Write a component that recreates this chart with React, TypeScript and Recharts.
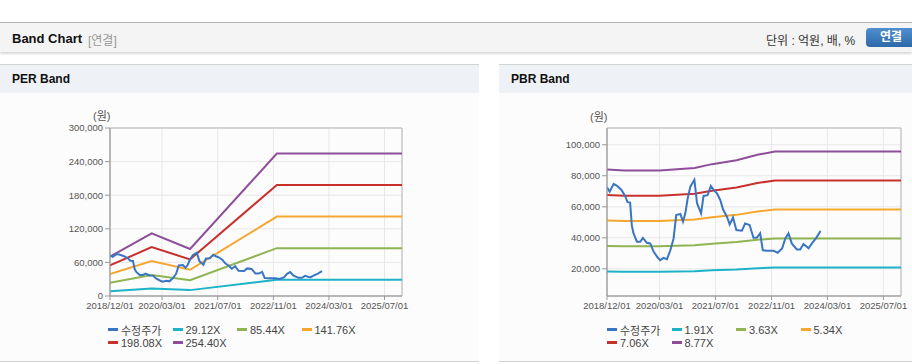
import React from 'react';
import { LineChart, Line, XAxis, YAxis, CartesianGrid, ReferenceArea } from 'recharts';

// adjusted close, shared by both charts
const PRICE_NAME = '수정주가';
const PRICE_DATES = [
  '2018-12-01', '2018-12-24', '2019-01-28', '2019-02-26', '2019-04-04', '2019-05-08',
  '2019-05-28', '2019-06-20', '2019-07-05', '2019-07-19', '2019-08-18', '2019-09-16',
  '2019-10-09', '2019-11-13', '2019-12-12', '2020-01-11', '2020-02-15', '2020-03-08',
  '2020-04-06', '2020-05-05', '2020-06-04', '2020-07-02', '2020-07-25', '2020-08-30',
  '2020-09-22', '2020-10-12', '2020-11-02', '2020-11-25', '2020-12-30', '2021-01-22',
  '2021-02-26', '2021-03-20', '2021-04-24', '2021-05-22', '2021-06-15', '2021-07-14',
  '2021-08-12', '2021-09-05', '2021-10-09', '2021-11-02', '2021-12-01', '2021-12-30',
  '2022-02-17', '2022-03-16', '2022-04-24', '2022-05-28', '2022-06-26', '2022-07-25',
  '2022-08-17', '2022-09-22', '2022-11-19', '2022-12-24', '2023-02-01', '2023-03-01',
  '2023-03-28', '2023-04-26', '2023-06-09', '2023-07-08', '2023-08-06', '2023-09-19',
  '2023-10-18', '2023-11-25', '2024-01-01',
];
const PRICE = [
  72600, 69800, 74800, 73500, 71000, 67000,
  63000, 62700, 48000, 43000, 37500, 37500,
  40000, 36800, 36400, 31000, 27300, 25600,
  27100, 26200, 32000, 39600, 54700, 55400,
  50400, 55800, 65500, 73000, 77400, 62300,
  55800, 67000, 67500, 73500, 71000, 68700,
  64400, 58400, 53600, 48700, 53200, 45000,
  44600, 49300, 48300, 40000, 40000, 42900,
  32000, 31600, 31600, 30400, 33200, 39600,
  42900, 36400, 32500, 32500, 36000, 33200,
  36400, 40000, 44400,
];

// PER bands (원)
const PER_LABELS = ['29.12X', '85.44X', '141.76X', '198.08X', '254.40X'];
const PER_BAND_DATES = ['2018-12-01', '2019-12-01', '2020-11-01', '2022-12-01', '2025-12-01'];
const PER_29 = [8500, 13500, 10500, 29120, 29120];
const PER_85 = [23600, 37600, 28200, 85440, 85440];
const PER_141 = [39100, 62400, 46800, 141760, 141760];
const PER_198 = [54700, 87200, 65400, 198080, 198080];
const PER_254 = [70200, 112000, 84000, 254400, 254400];
const PER_Y_TICKS = [0, 60000, 120000, 180000, 240000, 300000];

// PBR bands (원)
const PBR_LABELS = ['1.91X', '3.63X', '5.34X', '7.06X', '8.77X'];
const PBR_BAND_DATES = [
  '2018-12-01', '2019-05-01', '2020-03-01', '2021-01-01', '2021-06-01',
  '2022-01-01', '2022-07-01', '2022-12-01', '2025-12-01',
];
const PBR_191 = [18300, 18200, 18200, 18500, 19100, 19600, 20400, 20800, 20800];
const PBR_363 = [34800, 34500, 34500, 35200, 36200, 37300, 38700, 39600, 39600];
const PBR_534 = [51100, 50800, 50800, 51800, 53300, 54800, 56900, 58300, 58300];
const PBR_706 = [67600, 67100, 67100, 68400, 70400, 72500, 75300, 77000, 77000];
const PBR_877 = [84000, 83400, 83400, 85000, 87500, 90000, 93500, 95700, 95700];
const PBR_Y_TICKS = [20000, 40000, 60000, 80000, 100000];

const X_TICKS = ['2018-12-01', '2020-03-01', '2021-07-01', '2022-11-01', '2024-03-01', '2025-07-01'];
const X_RANGE = ['2018-12-01', '2025-12-01'];

const PRICE_COLOR = '#3a75c4';
const BAND_COLORS = ['#1cb3c8', '#8fb552', '#f5a731', '#c9302c', '#8e4e9b'];
const FONT = '"Liberation Sans", Arial, "Noto Sans CJK KR", sans-serif';

const ts = (s: string) => Date.parse(s);
const fmtDate = (v: number) => {
  const d = new Date(v);
  const mm = String(d.getUTCMonth() + 1).padStart(2, '0');
  const dd = String(d.getUTCDate()).padStart(2, '0');
  return `${d.getUTCFullYear()}/${mm}/${dd}`;
};
const rows = (dates: string[], values: number[]) => dates.map((d, i) => ({ t: ts(d), v: values[i] }));

function BandChart({ left, width, yWidth, marginRight, yDomain, yTicks, bandDates, bands, labels }: any) {
  const x0 = ts(X_RANGE[0]);
  const x1 = ts(X_RANGE[1]);
  return (
    <div style={{ position: 'absolute', left, top: 100 }}>
      <LineChart width={width} height={220} margin={{ top: 28, right: marginRight, bottom: 0, left: 0 }}>
        <CartesianGrid stroke="#e8e8e8" />
        <ReferenceArea x1={x0} x2={x1} y1={yDomain[0]} y2={yDomain[1]} fill="none" stroke="#b8b8b8" />
        <XAxis
          dataKey="t"
          type="number"
          domain={[x0, x1]}
          ticks={X_TICKS.map(ts)}
          tickFormatter={fmtDate}
          interval={0}
          height={24}
          tickSize={4}
          tickMargin={2}
          allowDataOverflow
          stroke="#999"
          tick={{ fill: '#555', fontSize: 9.5, fontFamily: FONT }}
        />
        <YAxis
          type="number"
          domain={yDomain}
          ticks={yTicks}
          width={yWidth}
          tickSize={5}
          tickMargin={2}
          interval={0}
          allowDataOverflow
          stroke="#999"
          tickFormatter={(v: number) => v.toLocaleString('en-US')}
          tick={{ fill: '#555', fontSize: 9.5, fontFamily: FONT }}
        />
        {bands.map((vals: number[], i: number) => (
          <Line
            key={labels[i]}
            data={rows(bandDates, vals)}
            dataKey="v"
            name={labels[i]}
            type="linear"
            stroke={BAND_COLORS[i]}
            strokeWidth={2}
            dot={false}
            isAnimationActive={false}
          />
        ))}
        <Line
          data={rows(PRICE_DATES, PRICE)}
          dataKey="v"
          name={PRICE_NAME}
          type="linear"
          stroke={PRICE_COLOR}
          strokeWidth={2}
          dot={false}
          isAnimationActive={false}
        />
      </LineChart>
    </div>
  );
}

function BandLegend({ left, labels }: { left: number; labels: string[] }) {
  const items = [{ name: PRICE_NAME, color: PRICE_COLOR }, ...labels.map((l, i) => ({ name: l, color: BAND_COLORS[i] }))];
  return (
    <div style={{ position: 'absolute', left, top: 323, width: 260, display: 'flex', flexWrap: 'wrap' }}>
      {items.map((it) => (
        <div key={it.name} style={{ width: 64.5, height: 13, display: 'flex', alignItems: 'center', fontSize: 11, color: '#444', whiteSpace: 'nowrap' }}>
          <span style={{ display: 'inline-block', width: 10, height: 2.5, background: it.color, marginRight: 3 }} />
          {it.name}
        </div>
      ))}
    </div>
  );
}

function Panel({ left, width, title }: { left: number; width: number; title: string }) {
  return (
    <div style={{ position: 'absolute', left, top: 64, width, height: 298, background: '#fcfcfc', borderTop: '1px solid #d2d2d2', borderBottom: '1px solid #d2d2d2', boxSizing: 'border-box' }}>
      <div style={{ height: 28, background: '#eef2f7', display: 'flex', alignItems: 'center', paddingLeft: 12, fontSize: 12, fontWeight: 'bold', color: '#111' }}>
        {title}
      </div>
    </div>
  );
}

export default function App() {
  return (
    <div style={{ position: 'relative', width: 912, height: 364, background: '#fff', fontFamily: FONT, overflow: 'hidden' }}>
      <style>{'body{margin:0}'}</style>
      <div style={{ position: 'absolute', left: 0, top: 22, width: 912, height: 30, background: '#f4f4f4', borderTop: '1px solid #b4b4b4', boxShadow: '0 2px 2px rgba(0,0,0,0.15)', boxSizing: 'border-box' }}>
        <span style={{ position: 'absolute', left: 12, top: 8, fontSize: 13, fontWeight: 'bold', color: '#111' }}>Band Chart</span>
        <span style={{ position: 'absolute', left: 88, top: 8, fontSize: 12, color: '#999' }}>[연결]</span>
        <span style={{ position: 'absolute', left: 766, top: 8, fontSize: 12, color: '#333' }}>단위 : 억원, 배, %</span>
        <div style={{ position: 'absolute', left: 866, top: 5, width: 50, height: 19, borderRadius: 4, background: 'linear-gradient(#4f8fd0, #2e69a8)', color: '#fff', fontSize: 12, fontWeight: 'bold', lineHeight: '19px', paddingLeft: 14, boxSizing: 'border-box' }}>연결</div>
      </div>

      <Panel left={0} width={479} title="PER Band" />
      <Panel left={499} width={413} title="PBR Band" />

      <div style={{ position: 'absolute', left: 93, top: 107, fontSize: 11, color: '#555' }}>(원)</div>
      <div style={{ position: 'absolute', left: 590, top: 108, fontSize: 11, color: '#555' }}>(원)</div>

      <BandChart
        left={0}
        width={479}
        yWidth={110}
        marginRight={77}
        yDomain={[0, 300000]}
        yTicks={PER_Y_TICKS}
        bandDates={PER_BAND_DATES}
        bands={[PER_29, PER_85, PER_141, PER_198, PER_254]}
        labels={PER_LABELS}
      />
      <BandChart
        left={499}
        width={413}
        yWidth={108}
        marginRight={11}
        yDomain={[2500, 110800]}
        yTicks={PBR_Y_TICKS}
        bandDates={PBR_BAND_DATES}
        bands={[PBR_191, PBR_363, PBR_534, PBR_706, PBR_877]}
        labels={PBR_LABELS}
      />

      <BandLegend left={108} labels={PER_LABELS} />
      <BandLegend left={607} labels={PBR_LABELS} />
    </div>
  );
}
